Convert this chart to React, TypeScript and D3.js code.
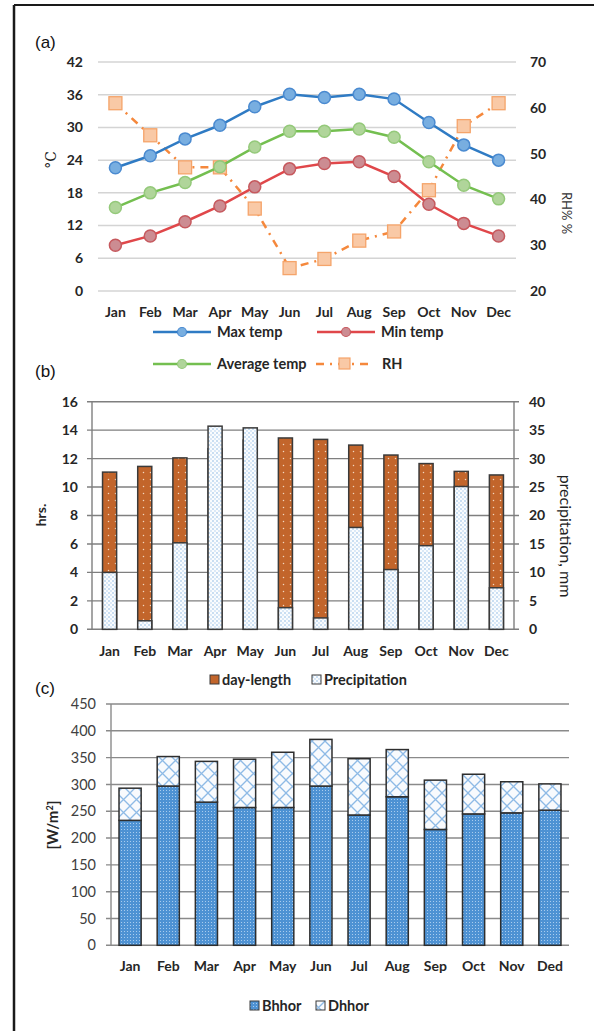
import React from "react";
import * as d3 from "d3";

const months = ["Jan","Feb","Mar","Apr","May","Jun","Jul","Aug","Sep","Oct","Nov","Dec"];
const monthsC = ["Jan","Feb","Mar","Apr","May","Jun","Jul","Aug","Sep","Oct","Nov","Ded"];

const maxTemp = [22.6,24.8,27.9,30.4,33.8,36.1,35.5,36.1,35.2,30.9,26.8,24.0];
const minTemp = [8.4,10.1,12.7,15.6,19.1,22.4,23.4,23.7,21.0,15.9,12.4,10.1];
const avgTemp = [15.3,18.0,19.9,22.8,26.4,29.3,29.3,29.7,28.2,23.7,19.4,16.9];
const rh = [61,54,47,47,38,25,27,31,33,42,56,61];
const tempTicks = [0,6,12,18,24,30,36,42];
const rhTicks = [20,30,40,50,60,70];

const dayLength = [11.05,11.45,12.05,12.7,13.3,13.45,13.35,12.95,12.25,11.65,11.1,10.85];
const precipitation = [10,1.5,15.2,35.7,35.4,3.8,2.0,17.9,10.5,14.7,25.1,7.3];
const hrsTicks = [0,2,4,6,8,10,12,14,16];
const mmTicks = [0,5,10,15,20,25,30,35,40];

const bhhor = [233,297,267,257,257,297,243,277,216,245,247,252];
const dhhor = [60,55,76,90,103,87,105,88,92,74,58,49];
const radTicks = [0,50,100,150,200,250,300,350,400,450];

const FONT = "Lato, 'Open Sans', sans-serif";
const ARIAL = "'Liberation Sans', Arial, sans-serif";

export default function App() {
  // Panel (a)
  const xa = d3.scaleBand<string>().domain(months).range([98, 516]).padding(0);
  const cxa = (m: string) => (xa(m) as number) + xa.bandwidth() / 2;
  const yT = d3.scaleLinear().domain([0, 42]).range([291, 62]);
  const yRH = d3.scaleLinear().domain([20, 70]).range([291, 62]);
  const lineT = (vals: number[]) =>
    d3.line<number>().x((_, i) => cxa(months[i])).y((v) => yT(v))(vals) as string;
  const lineRH = d3.line<number>().x((_, i) => cxa(months[i])).y((v) => yRH(v))(rh) as string;

  const series = [
    { vals: maxTemp, line: "#2F7BC4", fill: "#78AEE0", stroke: "#4A8AD0" },
    { vals: avgTemp, line: "#74BF50", fill: "#B0D59A", stroke: "#94C97A" },
    { vals: minTemp, line: "#E0474A", fill: "#CC8C92", stroke: "#C6595E" },
  ];

  // Panel (b)
  const xb = d3.scaleBand<string>().domain(months).range([92, 514]).padding(0);
  const bwB = xb.bandwidth() * 0.4;
  const yH = d3.scaleLinear().domain([0, 16]).range([629.3, 401.7]);
  const yMM = d3.scaleLinear().domain([0, 40]).range([629.3, 401.7]);

  // Panel (c)
  const xc = d3.scaleBand<string>().domain(monthsC).range([111, 569]).padding(0);
  const bwC = xc.bandwidth() * 0.58;
  const yR = d3.scaleLinear().domain([0, 450]).range([945.3, 704]);

  const tickBold = { fontFamily: FONT, fontWeight: 700, fontSize: 14, fill: "#262626" } as const;

  return (
    <svg width={594} height={1031} style={{ position: "absolute", left: 0, top: 0, background: "#fff" }}>
      <defs>
        <pattern id="dayPat" width={7} height={7} patternUnits="userSpaceOnUse">
          <rect width={7} height={7} fill="#C2652B" />
          <circle cx={3.5} cy={3.5} r={0.75} fill="#F3D6BE" />
        </pattern>
        <pattern id="precPat" width={4} height={4} patternUnits="userSpaceOnUse">
          <rect width={4} height={4} fill="#FAFCFE" />
          <circle cx={1} cy={1} r={0.75} fill="#7FB1E0" />
          <circle cx={3} cy={3} r={0.65} fill="#A2C7EB" />
        </pattern>
        <pattern id="bPat" width={3} height={3} patternUnits="userSpaceOnUse">
          <rect width={3} height={3} fill="#4E92D3" />
          <rect x={1} y={1} width={1} height={1} fill="#A9CCEE" />
        </pattern>
        <pattern id="dPat" width={13} height={13} patternUnits="userSpaceOnUse">
          <rect width={13} height={13} fill="#F8FAFD" />
          <line x1={0} y1={0} x2={13} y2={13} stroke="#8EBAE6" strokeWidth={1.3} />
          <line x1={13} y1={0} x2={0} y2={13} stroke="#8EBAE6" strokeWidth={1.3} />
        </pattern>
      </defs>

      {/* frame */}
      <line x1={14} y1={5} x2={594} y2={5} stroke="#1a1a1a" strokeWidth={2} />
      <line x1={14} y1={5} x2={14} y2={1031} stroke="#1a1a1a" strokeWidth={2.5} />

      {/* ===== Panel (a) ===== */}
      <text x={35} y={48} fontFamily={ARIAL} fontSize={17} fill="#111">(a)</text>
      {tempTicks.map((t) => (
        <g key={"ta" + t}>
          <line x1={98} x2={516} y1={yT(t)} y2={yT(t)} stroke="#D4D4D4" strokeWidth={1.5} />
          <text x={83} y={yT(t)} dy="0.35em" textAnchor="end" {...tickBold}>{t}</text>
        </g>
      ))}
      {rhTicks.map((t) => (
        <text key={"rh" + t} x={530} y={yRH(t)} dy="0.35em" {...tickBold}>{t}</text>
      ))}
      {months.map((m) => (
        <text key={"ma" + m} x={cxa(m)} y={312} dy="0.35em" textAnchor="middle" {...tickBold}>{m}</text>
      ))}
      <text transform="translate(56,160) rotate(-90)" textAnchor="middle" fontFamily="'DejaVu Serif', serif" fontSize={14} fill="#222">°C</text>
      <text transform="translate(562,213) rotate(90)" textAnchor="middle" fontFamily={FONT} fontSize={13} fill="#333">RH% %</text>

      <path d={lineRH} fill="none" stroke="#F5883C" strokeWidth={2.5} strokeDasharray="8,6,2,6" />
      {rh.map((v, i) => (
        <rect key={"rq" + i} x={cxa(months[i]) - 6.5} y={yRH(v) - 6.5} width={13} height={13}
          fill="#F9C9A6" stroke="#F5A46A" strokeWidth={1.3} />
      ))}
      {series.map((s, si) => (
        <g key={"s" + si}>
          <path d={lineT(s.vals)} fill="none" stroke={s.line} strokeWidth={2.5} />
          {s.vals.map((v, i) => (
            <circle key={i} cx={cxa(months[i])} cy={yT(v)} r={6} fill={s.fill} stroke={s.stroke} strokeWidth={1.5} />
          ))}
        </g>
      ))}

      {/* legend (a) */}
      {[
        { x: 153, y: 332, label: "Max temp", s: series[0] },
        { x: 317, y: 332, label: "Min temp", s: series[2] },
        { x: 153, y: 364, label: "Average temp", s: series[1] },
      ].map((l) => (
        <g key={l.label}>
          <line x1={l.x} x2={l.x + 58} y1={l.y} y2={l.y} stroke={l.s.line} strokeWidth={2.5} />
          <circle cx={l.x + 29} cy={l.y} r={4.5} fill={l.s.fill} stroke={l.s.stroke} strokeWidth={1.2} />
          <text x={l.x + 64} y={l.y} dy="0.35em" {...tickBold} fontSize={14.5}>{l.label}</text>
        </g>
      ))}
      <g>
        <line x1={316} x2={372} y1={364} y2={364} stroke="#F5883C" strokeWidth={2.5} strokeDasharray="8,6,2,6" />
        <rect x={339} y={358} width={11} height={11} fill="#F9C9A6" stroke="#F5A46A" strokeWidth={1.2} />
        <text x={382} y={364} dy="0.35em" {...tickBold} fontSize={14.5}>RH</text>
      </g>

      {/* ===== Panel (b) ===== */}
      <text x={35} y={377} fontFamily={ARIAL} fontSize={17} fill="#111">(b)</text>
      {hrsTicks.map((t) => (
        <g key={"hb" + t}>
          <line x1={87} x2={519} y1={yH(t)} y2={yH(t)} stroke="#7F7F7F" strokeWidth={1.4} />
          <text x={78} y={yH(t)} dy="0.35em" textAnchor="end" {...tickBold}>{t}</text>
        </g>
      ))}
      <line x1={92} x2={92} y1={yH(16)} y2={yH(0)} stroke="#7F7F7F" strokeWidth={1.4} />
      <line x1={514} x2={514} y1={yH(16)} y2={yH(0)} stroke="#7F7F7F" strokeWidth={1.4} />
      {mmTicks.map((t) => (
        <text key={"mm" + t} x={529} y={yMM(t)} dy="0.35em" {...tickBold}>{t}</text>
      ))}
      {months.map((m, i) => {
        const cx = (xb(m) as number) + xb.bandwidth() / 2;
        return (
          <g key={"bb" + m}>
            <rect x={cx - bwB / 2} y={yH(dayLength[i])} width={bwB} height={yH(0) - yH(dayLength[i])}
              fill="url(#dayPat)" stroke="#3A3A3A" strokeWidth={1.5} />
            <rect x={cx - bwB / 2} y={yMM(precipitation[i])} width={bwB} height={yMM(0) - yMM(precipitation[i])}
              fill="url(#precPat)" stroke="#3A3A3A" strokeWidth={1.5} />
            <text x={cx} y={651} dy="0.35em" textAnchor="middle" {...tickBold}>{m}</text>
          </g>
        );
      })}
      <text transform="translate(46,515) rotate(-90)" textAnchor="middle" {...tickBold} fontSize={14}>hrs.</text>
      <text transform="translate(560,536) rotate(90)" textAnchor="middle" fontFamily={FONT} fontSize={16} fill="#222">precipitation, mm</text>
      {/* legend (b) */}
      <rect x={210} y={675} width={9} height={9} fill="#C2652B" stroke="#3A3A3A" strokeWidth={1} />
      <text x={222} y={679.5} dy="0.35em" {...tickBold} fontSize={14.5}>day-length</text>
      <rect x={312} y={675} width={9} height={9} fill="url(#precPat)" stroke="#3A3A3A" strokeWidth={1} />
      <text x={324} y={679.5} dy="0.35em" {...tickBold} fontSize={14.5}>Precipitation</text>

      {/* ===== Panel (c) ===== */}
      <text x={35} y={694} fontFamily={ARIAL} fontSize={17} fill="#111">(c)</text>
      {radTicks.map((t) => (
        <g key={"rc" + t}>
          <line x1={106} x2={569} y1={yR(t)} y2={yR(t)} stroke="#8A8A8A" strokeWidth={1.4} />
          <text x={96} y={yR(t)} dy="0.35em" textAnchor="end" fontFamily={FONT} fontSize={14.5} fill="#404040">{t}</text>
        </g>
      ))}
      <line x1={111} x2={111} y1={yR(450)} y2={yR(0)} stroke="#8A8A8A" strokeWidth={1.4} />
      {monthsC.map((m, i) => {
        const cx = (xc(m) as number) + xc.bandwidth() / 2;
        const top = bhhor[i] + dhhor[i];
        return (
          <g key={"cb" + m}>
            <rect x={cx - bwC / 2} y={yR(bhhor[i])} width={bwC} height={yR(0) - yR(bhhor[i])}
              fill="url(#bPat)" stroke="#2E2E2E" strokeWidth={1.5} />
            <rect x={cx - bwC / 2} y={yR(top)} width={bwC} height={yR(bhhor[i]) - yR(top)}
              fill="url(#dPat)" stroke="#2E2E2E" strokeWidth={1.5} />
            <text x={cx} y={966} dy="0.35em" textAnchor="middle" {...tickBold}>{m}</text>
          </g>
        );
      })}
      <text transform="translate(58,825) rotate(-90)" textAnchor="middle" {...tickBold} fontSize={15}>
        [W/m<tspan dy={-5} fontSize={9}>2</tspan><tspan dy={5}>]</tspan>
      </text>
      {/* legend (c) */}
      <rect x={250} y={1001} width={9} height={9} fill="url(#bPat)" stroke="#3A3A3A" strokeWidth={1} />
      <text x={262} y={1005.5} dy="0.35em" {...tickBold} fontSize={14.5}>Bhhor</text>
      <rect x={316} y={1001} width={9} height={9} fill="url(#dPat)" stroke="#3A3A3A" strokeWidth={1} />
      <text x={328} y={1005.5} dy="0.35em" {...tickBold} fontSize={14.5}>Dhhor</text>
    </svg>
  );
}
